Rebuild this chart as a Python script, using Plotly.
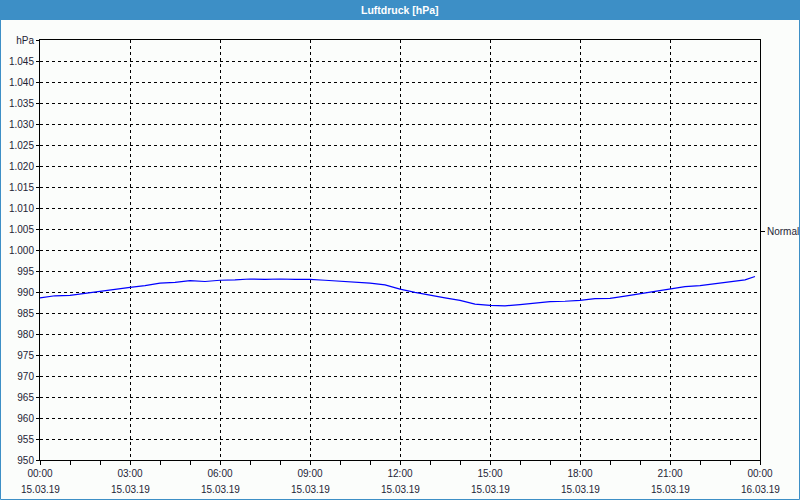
import plotly.graph_objects as go

# --- data ---
times = [
    "00:00", "00:30", "01:00", "01:30", "02:00", "02:30", "03:00", "03:30",
    "04:00", "04:30", "05:00", "05:30", "06:00", "06:30", "07:00", "07:30",
    "08:00", "08:30", "09:00", "09:30", "10:00", "10:30", "11:00", "11:30",
    "12:00", "12:30", "13:00", "13:30", "14:00", "14:30", "15:00", "15:30",
    "16:00", "16:30", "17:00", "17:30", "18:00", "18:30", "19:00", "19:30",
    "20:00", "20:30", "21:00", "21:30", "22:00", "22:30", "23:00", "23:30",
    "23:50",
]
pressure = [
    988.6, 989.1, 989.2, 989.7, 990.1, 990.6, 991.1, 991.5,
    992.1, 992.3, 992.7, 992.5, 992.8, 992.9, 993.1, 993.0,
    993.1, 993.0, 993.0, 992.8, 992.6, 992.3, 992.1, 991.7,
    990.7, 989.9, 989.2, 988.6, 988.0, 987.1, 986.8, 986.7,
    987.0, 987.3, 987.7, 987.8, 988.0, 988.4, 988.5, 989.0,
    989.6, 990.1, 990.7, 991.3, 991.5, 992.0, 992.5, 992.9,
    993.7,
]
normal_value = 1004.4
normal_label = "Normal"

y_ticks = list(range(950, 1051, 5))
y_ticktext = [("%d" % v if v < 1000 else "1.%03d" % (v - 1000)) for v in y_ticks]
y_ticktext[-1] = "hPa"

x_tickvals = ["2019-03-15 00:00", "2019-03-15 03:00", "2019-03-15 06:00",
              "2019-03-15 09:00", "2019-03-15 12:00", "2019-03-15 15:00",
              "2019-03-15 18:00", "2019-03-15 21:00", "2019-03-16 00:00"]
x_time_labels = ["00:00", "03:00", "06:00", "09:00", "12:00", "15:00",
                 "18:00", "21:00", "00:00"]
x_date_labels = ["15.03.19"] * 8 + ["16.03.19"]

title = "Luftdruck [hPa]"

# --- figure ---
x = ["2019-03-15 " + t for t in times]
FONT = "Liberation Sans"
TXT = "#1e2436"
BG = "#fbfdfb"
BLUE = "#3d8fc6"

fig = go.Figure()
fig.add_trace(go.Scatter(x=x, y=pressure, mode="lines",
                         line=dict(color="#0000ff", width=1.2),
                         hoverinfo="skip", showlegend=False))
fig.add_trace(go.Scatter(x=[x[0]], y=[normal_value], yaxis="y2", mode="markers",
                         marker=dict(opacity=0), hoverinfo="skip", showlegend=False))

L, R, T, B = 40, 40, 40, 40
W, H = 800, 500
pw, ph = W - L - R, H - T - B

def px2x(px):
    return (px - L) / pw

def py2y(py):
    return (H - B - py) / ph

fig.update_layout(
    width=W, height=H,
    margin=dict(l=L, r=R, t=T, b=B, autoexpand=False),
    paper_bgcolor=BG, plot_bgcolor=BG,
    font=dict(family=FONT, size=10, color=TXT),
    xaxis=dict(
        type="date", automargin=False,
        range=["2019-03-15 00:00", "2019-03-16 00:00"],
        tickmode="array", tickvals=x_tickvals, ticktext=x_time_labels,
        ticks="outside", ticklen=4, tickcolor="black",
        showgrid=True, gridcolor="black", gridwidth=1, griddash="dot",
        minor=dict(dtick=3600000, ticks="outside", ticklen=4, tickcolor="black",
                   showgrid=False),
        showline=True, linecolor="black", linewidth=1, mirror=True,
        zeroline=False, tickfont=dict(size=10, color=TXT),
    ),
    yaxis=dict(
        range=[950, 1050], automargin=False,
        tickmode="array", tickvals=y_ticks, ticktext=y_ticktext,
        ticks="outside", ticklen=3, tickcolor="black",
        showgrid=True, gridcolor="black", gridwidth=1, griddash="dot",
        showline=True, linecolor="black", linewidth=1, mirror=True,
        zeroline=False, tickfont=dict(size=10, color=TXT),
    ),
    yaxis2=dict(
        overlaying="y", side="right", range=[950, 1050], automargin=False,
        tickmode="array", tickvals=[normal_value], ticktext=[normal_label],
        ticks="outside", ticklen=4, tickcolor="black",
        showgrid=False, showline=False, zeroline=False,
        tickfont=dict(size=10, color=TXT),
    ),
)

# date line under each time label
for tv, dl in zip(x_tickvals, x_date_labels):
    fig.add_annotation(x=tv, xref="x", y=py2y(489), yref="paper",
                       text=dl, showarrow=False, xanchor="center", yanchor="middle",
                       font=dict(size=10, color=TXT, family=FONT))

# title bar
fig.add_shape(type="rect", xref="paper", yref="paper",
              x0=px2x(0), x1=px2x(800), y0=py2y(20), y1=py2y(0),
              fillcolor=BLUE, line=dict(width=0), layer="below")
fig.add_annotation(x=px2x(400), xref="paper", y=py2y(10), yref="paper",
                   text="<b>" + title + "</b>", showarrow=False,
                   xanchor="center", yanchor="middle",
                   font=dict(size=10.5, color="white", family=FONT))
# outer border
fig.add_shape(type="rect", xref="paper", yref="paper",
              x0=px2x(0.5), x1=px2x(799.5), y0=py2y(499.5), y1=py2y(0.5),
              line=dict(color=BLUE, width=1), fillcolor="rgba(0,0,0,0)")

fig.write_html("out.html",
               config={"displayModeBar": False},
               post_script="document.body.style.margin='0';document.body.style.overflow='hidden';")
